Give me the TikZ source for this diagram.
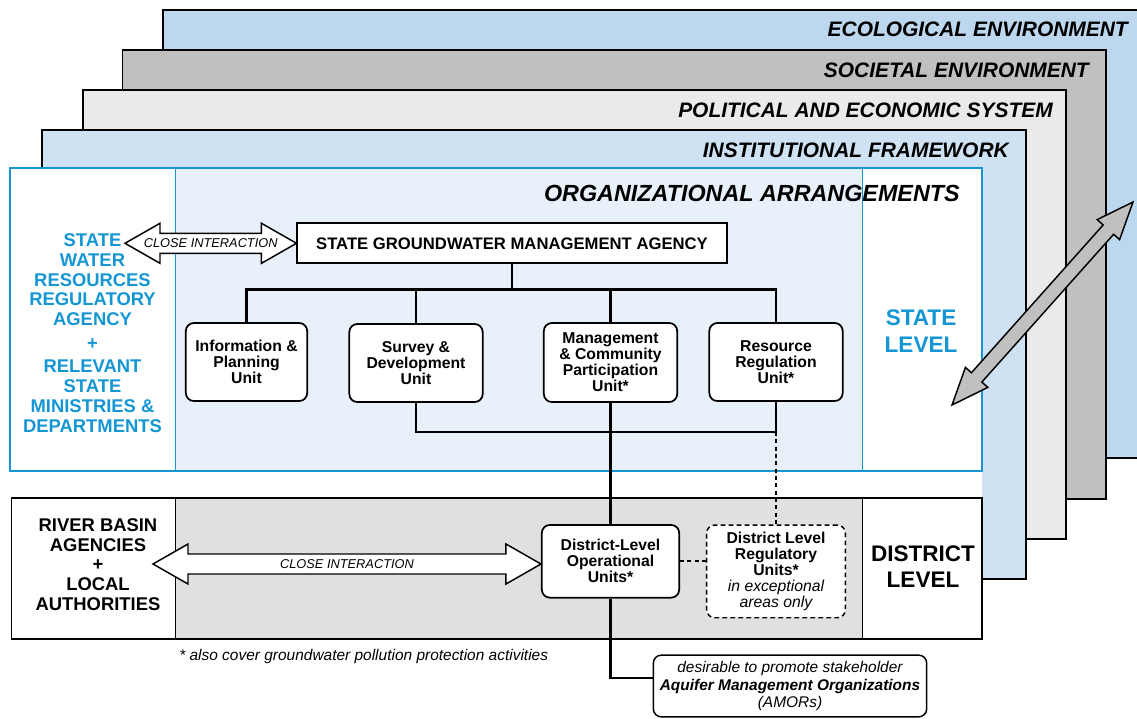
\documentclass[tikz,border=0pt]{standalone}
\usepackage{fontspec}
\setmainfont{Liberation Sans}
\usepackage{tikz}
\usetikzlibrary{calc}

\definecolor{ecoblue}{RGB}{189,215,238}
\definecolor{socgray}{RGB}{192,192,192}
\definecolor{polgray}{RGB}{234,234,234}
\definecolor{instblue}{RGB}{207,226,243}
\definecolor{orgfill}{RGB}{232,240,249}
\definecolor{stateblue}{RGB}{20,150,212}
\definecolor{distgray}{RGB}{224,224,224}

% block arrow with two heads: from, to, shaft half width, head half width, head length
\newcommand{\blockarrow}[6][]{%
  \path ($(#2)!#6!(#3)$) coordinate (ba1) ($(#3)!#6!(#2)$) coordinate (ba2);
  \draw[blockarr,#1] (#2) -- ($(ba1)!#5!90:(#3)$) -- ($(ba1)!#4!90:(#3)$)
    -- ($(ba2)!#4!-90:(#2)$) -- ($(ba2)!#5!-90:(#2)$) -- (#3)
    -- ($(ba2)!#5!90:(#2)$) -- ($(ba2)!#4!90:(#2)$)
    -- ($(ba1)!#4!-90:(#3)$) -- ($(ba1)!#5!-90:(#3)$) -- cycle;
}

\begin{document}
\begin{tikzpicture}[x=0.75pt,y=0.75pt,yscale=-1,xscale=1,
  layer/.style={draw=black, line width=1.1pt},
  layerlab/.style={anchor=east, inner sep=0pt, font=\fontsize{15.7}{18}\selectfont\bfseries\itshape},
  unitbox/.style={draw, fill=white, rounded corners=6pt, line width=1.3pt, align=center, inner sep=0pt,
    minimum height=58.5pt, minimum width=100pt, font=\fontsize{11.8}{12}\selectfont\bfseries},
  conn/.style={line width=2pt},
  dashconn/.style={line width=1.3pt, dash pattern=on 3pt off 2.5pt},
  blockarr/.style={draw=black, fill=white, line width=1.1pt, line join=miter},
  citext/.style={inner sep=0pt, font=\fontsize{9.6}{10}\selectfont\itshape},
  sidetext/.style={align=center, inner sep=0pt, font=\fontsize{13.8}{14.8}\selectfont\bfseries},
  leveltext/.style={align=center, inner sep=0pt, font=\fontsize{16.9}{20.25}\selectfont\bfseries}]
\useasboundingbox (0,0) rectangle (1137,718);

%Shape: Rectangle [ecological environment]
\draw [layer, fill=ecoblue] (163,10) rectangle (1145,458);
%Shape: Rectangle [societal environment]
\draw [layer, fill=socgray] (122.5,50) rectangle (1106,499);
%Shape: Rectangle [political and economic system]
\draw [layer, fill=polgray] (83,90) rectangle (1066,539);
%Shape: Rectangle [institutional framework]
\draw [layer, fill=instblue] (42,130) rectangle (1026,579);
%Shape: Rectangle [gap between the two levels]
\fill [white] (10,471) rectangle (982,498);

%Shape: Rectangle [organizational arrangements, state level]
\fill [white] (10,168) rectangle (982,471);
\fill [orgfill] (175,168) rectangle (862,471);
\draw [stateblue, line width=0.75pt] (175,168) -- (175,471) (862,168) -- (862,471);
\draw [stateblue, line width=1.5pt] (10,168) rectangle (982,471);

%Shape: Rectangle [district level]
\fill [white] (11.5,498) rectangle (982,639);
\fill [distgray] (175,498) rectangle (862,639);
\draw [line width=0.75pt] (175,498) -- (175,639) (862,498) -- (862,639);
\draw [line width=1.3pt] (11.5,498) rectangle (982,639);

% Text Node
\node [layerlab] (ecolab) at (1128,29) {ECOLOGICAL ENVIRONMENT};
% Text Node
\node [layerlab] (soclab) at (1089,70) {SOCIETAL ENVIRONMENT};
% Text Node
\node [layerlab] (pollab) at (1053,110) {POLITICAL AND ECONOMIC SYSTEM};
% Text Node
\node [layerlab] (instlab) at (1009,150) {INSTITUTIONAL FRAMEWORK};
% Text Node
\node [layerlab, font=\fontsize{17.5}{20}\selectfont\bfseries\itshape] (orglab) at (960,193) {ORGANIZATIONAL ARRANGEMENTS};

% Text Node
\node [sidetext, text=stateblue] (statewater) at (92.5,333) {STATE\\WATER\\RESOURCES\\REGULATORY\\AGENCY\\[3pt]+\\[3pt]RELEVANT\\STATE\\MINISTRIES \&\\DEPARTMENTS};
% Text Node
\node [leveltext, text=stateblue] (statelevel) at (921,331.5) {STATE\\LEVEL};
% Text Node
\node [sidetext] (riverbasin) at (98,564.5) {RIVER BASIN\\AGENCIES\\+\\LOCAL\\AUTHORITIES};
% Text Node
\node [leveltext, font=\fontsize{16.9}{19.5}\selectfont\bfseries] (districtlevel) at (923,567) {DISTRICT\\LEVEL};

% agency and units
\node [draw, fill=white, line width=1.3pt, minimum width=322pt, minimum height=30pt, inner sep=0pt,
  font=\fontsize{12.5}{14}\selectfont\bfseries] (agency) at (512,243.3) {STATE GROUNDWATER MANAGEMENT AGENCY};
\node [unitbox, minimum width=91pt] (info) at (246.5,362) {Information \&\\Planning\\Unit};
\node [unitbox] (survey) at (416,363) {Survey \&\\Development\\Unit};
\node [unitbox, minimum height=59.25pt] (mgmt) at (610.5,362.5) {Management\\\& Community\\Participation\\Unit*};
\node [unitbox] (resource) at (776,362) {Resource\\Regulation\\Unit*};
\node [unitbox, minimum width=103pt, minimum height=54.5pt] (opunit) at (610.5,561.3) {District-Level\\Operational\\Units*};
\node [unitbox, minimum width=104pt, minimum height=69.5pt, line width=1.1pt, dash pattern=on 3.5pt off 2.5pt] (regunit) at (776,571.4)
  {District Level\\Regulatory\\Units*\\\mdseries\itshape in exceptional\\\mdseries\itshape areas only};
\node [draw, fill=white, rounded corners=6pt, line width=1.1pt, minimum width=205pt, minimum height=46.3pt, inner sep=0pt,
  align=center, font=\fontsize{11.6}{13}\selectfont\itshape] (amor) at (790,686)
  {desirable to promote stakeholder\\\textbf{Aquifer Management Organizations}\\(AMORs)};

% Text Node
\node [anchor=west, inner sep=0pt, font=\fontsize{11.6}{13}\selectfont\itshape] (footnote) at (179,656) {* also cover groundwater pollution protection activities};

%Straight Lines [tree]
\draw [conn] (agency.south) -- ++(0,25) coordinate (bus);
\draw [conn] (info.north) |- (bus) -| (resource.north);
\draw [conn] (survey.north) -- (survey.north |- bus);
\draw [conn] (mgmt.north) -- (mgmt.north |- bus);
\draw [conn] (survey.south) -- ++(0,29) coordinate (lowbus) -| (resource.south);
\draw [conn] (mgmt.south) -- (opunit.north);
\draw [conn] (opunit.south) |- ($(amor.west)+(0,-8)$);
\draw [dashconn] (resource.south |- lowbus) -- (regunit.north);
\draw [dashconn] (opunit.east) -- (opunit.east -| regunit.west);

%Shape: Block Arrows [close interaction]
\coordinate (ci1a) at (125,243.3);
\blockarrow{ci1a}{agency.west}{7.5pt}{15pt}{26.25pt}
\path (ci1a) -- (agency.west) node [citext, midway] (ci1text) {CLOSE INTERACTION};
\coordinate (ci2a) at (153,564);
\blockarrow{ci2a}{opunit.west |- ci2a}{7.5pt}{15pt}{26.25pt}
\path (ci2a) -- (opunit.west |- ci2a) node [citext, midway] (ci2text) {CLOSE INTERACTION};

%Shape: Block Arrow [between the levels and the environment]
\coordinate (envtip) at (1133,202);
\coordinate (leveltip) at (952,405);
\blockarrow[fill=socgray]{leveltip}{envtip}{5.25pt}{11.25pt}{27.75pt}

\end{tikzpicture}
\end{document}
